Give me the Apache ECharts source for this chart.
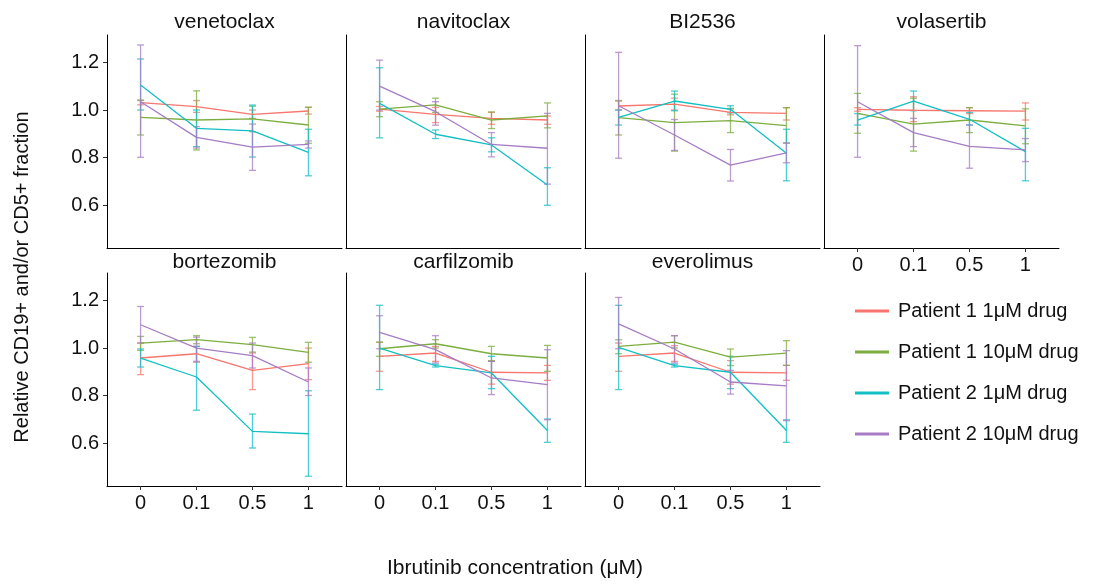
<!DOCTYPE html>
<html>
<head>
<meta charset="utf-8">
<script src="https://cdn.jsdelivr.net/npm/echarts@6.0.0/dist/echarts.min.js"></script>
<style>
  html, body { margin: 0; padding: 0; background: #fff; }
  #main { width: 1095px; height: 584px; }
</style>
</head>
<body>
<div id="main"></div>
<script>
// facets, x categories and legend groups
const drugs = ['venetoclax', 'navitoclax', 'BI2536', 'volasertib', 'bortezomib', 'carfilzomib', 'everolimus'];
const concLabels = ['0', '0.1', '0.5', '1'];
const groups = ['Patient 1 1μM drug', 'Patient 1 10μM drug', 'Patient 2 1μM drug', 'Patient 2 10μM drug'];
const yTicks = [0.6, 0.8, 1.0, 1.2];

// one row per drug (same order as drugs), one value per concentration
const p1_1uM_mean = [
  [1.031, 1.014, 0.982, 0.996],
  [1.004, 0.982, 0.965, 0.958],
  [1.017, 1.025, 0.990, 0.986],
  [1.003, 0.999, 0.997, 0.995],
  [0.958, 0.976, 0.906, 0.934],
  [0.965, 0.979, 0.898, 0.895],
  [0.965, 0.979, 0.898, 0.895]
];
const p1_1uM_lo = [
  [1.022, 0.990, 0.965, 0.983],
  [0.995, 0.947, 0.940, 0.940],
  [1.000, 1.000, 0.980, 0.958],
  [0.995, 0.951, 0.985, 0.958],
  [0.888, 0.940, 0.825, 0.867],
  [0.902, 0.944, 0.848, 0.864],
  [0.902, 0.944, 0.848, 0.864]
];
const p1_1uM_hi = [
  [1.040, 1.040, 1.000, 1.011],
  [1.015, 1.011, 0.990, 0.975],
  [1.038, 1.050, 1.004, 1.010],
  [1.010, 1.056, 1.010, 1.030],
  [1.021, 1.007, 0.979, 1.000],
  [1.024, 1.007, 0.944, 0.927],
  [1.021, 1.010, 0.947, 0.927]
];

const p1_10uM_mean = [
  [0.969, 0.958, 0.963, 0.937],
  [1.004, 1.022, 0.958, 0.975],
  [0.968, 0.947, 0.955, 0.934],
  [0.986, 0.941, 0.958, 0.933],
  [1.021, 1.035, 1.014, 0.982],
  [0.997, 1.018, 0.976, 0.958],
  [1.007, 1.025, 0.962, 0.979]
];
const p1_10uM_lo = [
  [0.895, 0.832, 0.909, 0.860],
  [0.972, 0.990, 0.922, 0.925],
  [0.895, 0.827, 0.905, 0.860],
  [0.902, 0.827, 0.905, 0.858],
  [0.990, 1.018, 0.983, 0.940],
  [0.965, 1.000, 0.947, 0.902],
  [0.976, 1.000, 0.926, 0.927]
];
const p1_10uM_hi = [
  [1.042, 1.081, 1.016, 1.012],
  [1.035, 1.050, 0.992, 1.030],
  [1.040, 1.067, 1.007, 1.010],
  [1.070, 1.050, 1.010, 1.005],
  [1.049, 1.052, 1.045, 1.024],
  [1.025, 1.035, 1.007, 1.011],
  [1.035, 1.052, 0.996, 1.031]
];

const p2_1uM_mean = [
  [1.105, 0.923, 0.912, 0.822],
  [1.028, 0.898, 0.853, 0.684],
  [0.969, 1.038, 1.003, 0.818],
  [0.958, 1.038, 0.961, 0.825],
  [0.958, 0.878, 0.649, 0.639],
  [1.000, 0.926, 0.895, 0.653],
  [1.003, 0.926, 0.898, 0.653]
];
const p2_1uM_lo = [
  [1.000, 0.846, 0.802, 0.723],
  [0.883, 0.880, 0.824, 0.599],
  [0.937, 0.997, 0.988, 0.702],
  [0.937, 0.997, 0.937, 0.702],
  [0.920, 0.738, 0.579, 0.460],
  [0.825, 0.920, 0.829, 0.603],
  [0.825, 0.920, 0.829, 0.603]
];
const p2_1uM_hi = [
  [1.215, 1.000, 1.021, 0.919],
  [1.178, 0.916, 0.883, 0.757],
  [1.000, 1.080, 1.018, 0.919],
  [0.985, 1.080, 0.990, 0.923],
  [0.996, 1.007, 0.722, 0.820],
  [1.180, 0.932, 0.965, 0.701],
  [1.180, 0.932, 0.965, 0.698]
];

const p2_10uM_mean = [
  [1.035, 0.885, 0.844, 0.855],
  [1.101, 0.993, 0.855, 0.839],
  [1.018, 0.895, 0.768, 0.820],
  [1.035, 0.905, 0.847, 0.832],
  [1.098, 1.000, 0.968, 0.857],
  [1.066, 0.993, 0.874, 0.846],
  [1.102, 0.996, 0.857, 0.841]
];
const p2_10uM_lo = [
  [0.801, 0.840, 0.746, 0.840],
  [1.000, 0.936, 0.803, 0.688],
  [0.797, 0.830, 0.701, 0.778],
  [0.801, 0.846, 0.755, 0.783],
  [1.021, 0.944, 0.916, 0.800],
  [0.997, 0.937, 0.804, 0.698],
  [0.997, 0.937, 0.806, 0.694]
];
const p2_10uM_hi = [
  [1.274, 0.930, 0.941, 0.870],
  [1.210, 1.035, 0.905, 0.986],
  [1.243, 0.960, 0.834, 0.862],
  [1.271, 0.965, 0.937, 0.880],
  [1.175, 1.046, 1.021, 0.916],
  [1.136, 1.052, 0.944, 0.993],
  [1.213, 1.052, 0.906, 0.989]
];

const means = [p1_1uM_mean, p1_10uM_mean, p2_1uM_mean, p2_10uM_mean];
const lows = [p1_1uM_lo, p1_10uM_lo, p2_1uM_lo, p2_10uM_lo];
const highs = [p1_1uM_hi, p1_10uM_hi, p2_1uM_hi, p2_10uM_hi];
const colors = ['#F8766D', '#7CAE3F', '#12BFC4', '#A67CC4'];

const chart = echarts.init(document.getElementById('main'));
const FONT = 'Liberation Sans, Arial, Helvetica, sans-serif';

function errorBar(params, api) {
  const x = api.value(0);
  const lo = api.coord([x, api.value(1)]);
  const hi = api.coord([x, api.value(2)]);
  const w = 3.5;
  const style = { stroke: api.visual('color'), lineWidth: 1.3, opacity: 0.75 };
  return {
    type: 'group',
    children: [
      { type: 'line', shape: { x1: lo[0], y1: lo[1], x2: hi[0], y2: hi[1] }, style: style },
      { type: 'line', shape: { x1: lo[0] - w, y1: lo[1], x2: lo[0] + w, y2: lo[1] }, style: style },
      { type: 'line', shape: { x1: hi[0] - w, y1: hi[1], x2: hi[0] + w, y2: hi[1] }, style: style }
    ]
  };
}

const grids = [], xAxes = [], yAxes = [], series = [], graphics = [];
const axisLine = { show: true, onZero: false, lineStyle: { color: '#000', width: 1 } };

drugs.forEach((drug, p) => {
  const col = p % 4, row = Math.floor(p / 4);
  const left = 107 + col * 239;
  const top = row === 0 ? 35 : 273;
  grids.push({ left: left, top: top, width: 235, height: 213 });

  const showX = row === 1 || p === 3;
  const showY = col === 0;
  xAxes.push({
    gridIndex: p, type: 'value', min: -0.6, max: 3.6,
    axisLine: axisLine,
    splitLine: { show: false },
    axisTick: { show: showX, length: 4, lineStyle: { color: '#333' }, customValues: [0, 1, 2, 3] },
    axisLabel: {
      show: showX, customValues: [0, 1, 2, 3], margin: 7,
      formatter: v => concLabels[Math.round(v)],
      fontSize: 20, color: '#111', fontFamily: FONT
    }
  });
  yAxes.push({
    gridIndex: p, type: 'value', min: 0.419, max: 1.316,
    axisLine: axisLine,
    splitLine: { show: false },
    axisTick: { show: showY, length: 4, lineStyle: { color: '#333' }, customValues: yTicks },
    axisLabel: {
      show: showY, customValues: yTicks, margin: 8,
      formatter: v => v.toFixed(1),
      fontSize: 20, color: '#111', fontFamily: FONT
    }
  });

  graphics.push({
    type: 'text', x: left + 117.5, y: row === 0 ? 12 : 252,
    style: { text: drug, font: '21px ' + FONT, fill: '#111', textAlign: 'center', textVerticalAlign: 'top' }
  });
});

groups.forEach((g, k) => {
  drugs.forEach((drug, p) => {
    series.push({
      name: g, type: 'line', xAxisIndex: p, yAxisIndex: p,
      data: means[k][p].map((v, i) => [i, v]),
      showSymbol: false, symbol: 'none',
      color: colors[k],
      lineStyle: { width: 1.3, color: colors[k] },
      z: 3
    });
  });
});
groups.forEach((g, k) => {
  drugs.forEach((drug, p) => {
    series.push({
      name: g, type: 'custom', xAxisIndex: p, yAxisIndex: p,
      renderItem: errorBar,
      encode: { x: 0, y: [1, 2] },
      itemStyle: { color: colors[k] },
      data: lows[k][p].map((v, i) => [i, v, highs[k][p][i]]),
      z: 2
    });
  });
});

graphics.push({
  type: 'text', x: 515, y: 568,
  style: { text: 'Ibrutinib concentration (μM)', font: '21px ' + FONT, fill: '#111', textAlign: 'center', textVerticalAlign: 'middle' }
});
graphics.push({
  type: 'text', x: 22, y: 277, rotation: Math.PI / 2,
  style: { text: 'Relative CD19+ and/or CD5+ fraction', font: '20px ' + FONT, fill: '#111', textAlign: 'center', textVerticalAlign: 'middle' }
});

chart.setOption({
  animation: false,
  backgroundColor: '#fff',
  grid: grids,
  xAxis: xAxes,
  yAxis: yAxes,
  legend: {
    data: groups,
    orient: 'vertical',
    left: 855, top: 301, padding: 0,
    icon: 'rect',
    itemWidth: 34, itemHeight: 3,
    itemGap: 21,
    textStyle: { fontSize: 20, lineHeight: 20, color: '#111', fontFamily: FONT, padding: [0, 0, 0, 4] }
  },
  graphic: graphics,
  series: series
});
</script>
</body>
</html>
